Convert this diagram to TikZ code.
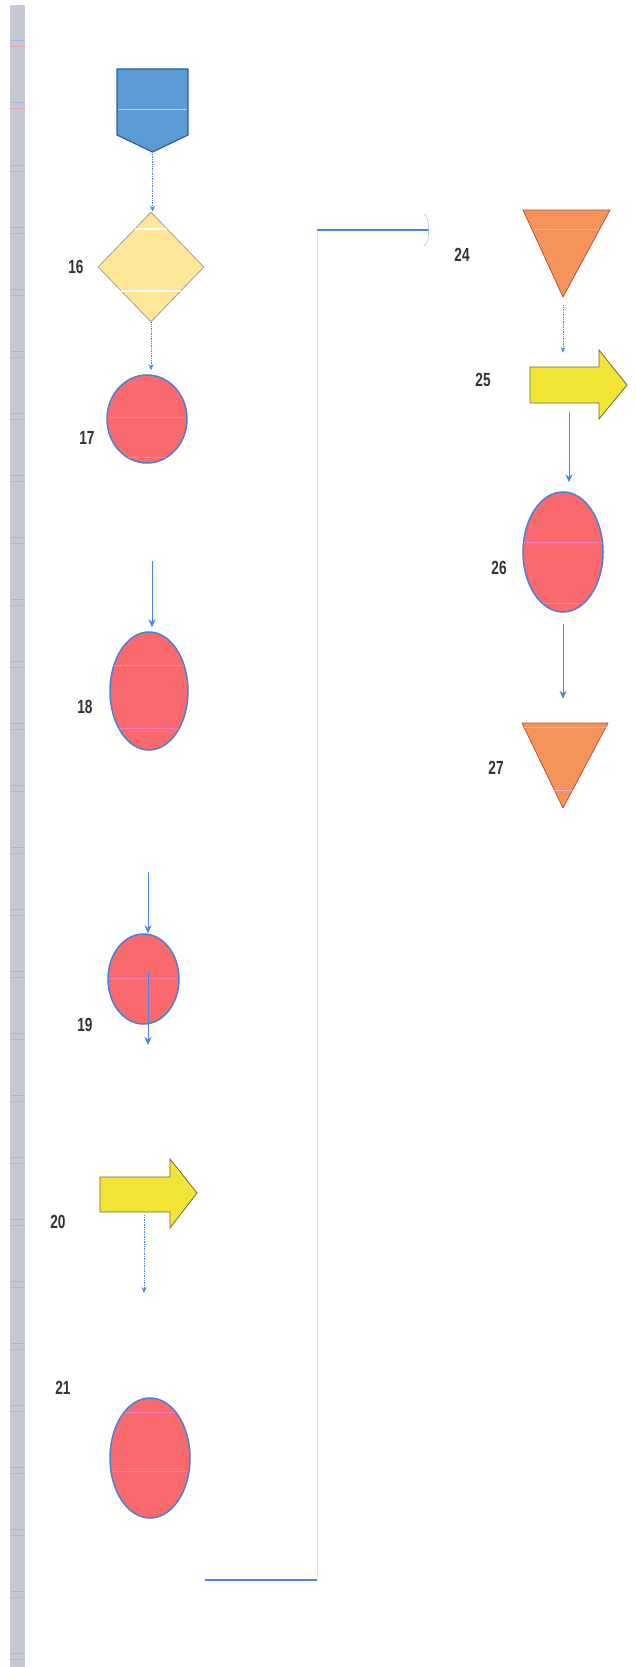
\documentclass[tikz,border=0pt]{standalone}
\usepackage{fontspec}
\usetikzlibrary{shapes.geometric,arrows.meta}
\newfontfamily\lblfont[FakeStretch=0.72]{Liberation Sans}
\definecolor{barc}{HTML}{C6C8D6}
\definecolor{tickc}{HTML}{F0A0B0}
\definecolor{tickb}{HTML}{A8B4E8}
\definecolor{pentfill}{HTML}{5B9BD5}
\definecolor{pentdraw}{HTML}{2F5E90}
\definecolor{diafill}{HTML}{FFE699}
\definecolor{diadraw}{HTML}{A8A08A}
\definecolor{ellfill}{HTML}{F86A6E}
\definecolor{elldraw}{HTML}{4A80D8}
\definecolor{trifill}{HTML}{F4935A}
\definecolor{tridraw}{HTML}{B5563A}
\definecolor{arrfill}{HTML}{F3E438}
\definecolor{arrdraw}{HTML}{6E6E30}
\definecolor{conc}{HTML}{4A86E8}
\definecolor{faintc}{HTML}{DCE4EE}
\definecolor{headc}{HTML}{B8C4D8}
\definecolor{pinkl}{HTML}{F07CC0}
\definecolor{lblc}{HTML}{333333}
\begin{document}
\begin{tikzpicture}[x=1pt,y=-1pt,
  lbl/.style={font=\lblfont\bfseries\fontsize{19}{19}\selectfont, text=lblc, inner sep=0pt},
  ell/.style={ellipse, fill=ellfill, draw=elldraw, line width=1.5pt, inner sep=0pt},
  dia/.style={diamond, fill=diafill, draw=diadraw, line width=0.8pt, inner sep=0pt, aspect=1},
  ghost/.style={rectangle, inner sep=0pt, draw=none},
  pentshape/.style={fill=pentfill, draw=pentdraw, line width=1.2pt, line join=round},
  trishape/.style={fill=trifill, draw=tridraw, line width=0.8pt, line join=round},
  arrshape/.style={fill=arrfill, draw=arrdraw, line width=0.8pt, line join=miter},
  conn/.style={draw=conc, line width=0.9pt, -{Stealth[length=8pt,width=7pt]}},
  dconn/.style={draw=conc, line width=0.7pt, densely dotted, -{Stealth[length=6pt,width=5pt]}},
  pinkline/.style={draw=pinkl, line width=0.9pt},
  whiteline/.style={draw=white, line width=1.2pt}]
\useasboundingbox (0,0) rectangle (636,1667);
\fill[white] (0,0) rectangle (636,1667);
% left bar
\fill[barc] (10,5) rectangle (25,1667);
\foreach \yy in {47,109,171,233,295,357,419,481,543,605,667,729,791,853,915,977,1039,1101,1163,1225,1287,1349,1411,1473,1535,1597,1659}{
  \draw[tickc, line width=1pt] (10,\yy) -- (25,\yy);
  \draw[tickb, line width=1pt] (11,\yy-6) -- (24,\yy-6);
}

% pentagon (off-page connector)
\draw[pentshape] (117,69) -- (188,69) -- (188,135) -- (152.5,152) -- (117,135) -- cycle;
\draw[pinkline, draw=pinkl!60] (118,109) -- (187,109);
\node[ghost, minimum width=71, minimum height=83] (pent) at (152.5,110.5) {};

% diamond 16
\node[dia, minimum width=106, minimum height=110] (d16) at (151,267) {};
\draw[whiteline] (135,229) -- (167,229);
\draw[whiteline] (121,291) -- (181,291);
\node[lbl] (l16) at (76,267) {16};

% ellipse 17
\node[ell, minimum width=80, minimum height=88] (e17) at (147,419) {};
\draw[pinkline] (108,417) -- (186,417);
\draw[pinkline] (128,457) -- (166,457);
\node[lbl] (l17) at (87,438) {17};

% ellipse 18
\node[ell, minimum width=78, minimum height=118] (e18) at (149,691) {};
\draw[pinkline] (114,665) -- (184,665);
\draw[pinkline] (119,728) -- (179,728);
\node[lbl] (l18) at (85,707) {18};

% ellipse 19
\node[ell, minimum width=71, minimum height=90] (e19) at (143.5,979) {};
\draw[pinkline] (109,978) -- (178,978);
\node[lbl] (l19) at (85,1025) {19};

% arrow 20
\draw[arrshape] (100,1177) -- (170,1177) -- (170,1159) -- (197,1193) -- (170,1228) -- (170,1212) -- (100,1212) -- cycle;
\node[ghost, minimum width=70, minimum height=35] (a20) at (135,1194.5) {};
\node[lbl] (l20) at (58,1222) {20};

% ellipse 21
\node[ell, minimum width=80, minimum height=120] (e21) at (150,1458) {};
\draw[pinkline] (125,1412) -- (175,1412);
\draw[pinkline] (112,1471) -- (188,1471);
\node[lbl] (l21) at (63,1388) {21};

% triangle 24
\draw[trishape] (523,210) -- (610,210) -- (563,297) -- cycle;
\draw[pinkline, draw=pinkl!70] (534,229) -- (599,229);
\node[ghost, minimum width=87, minimum height=87] (t24) at (563,253.5) {};
\node[lbl] (l24) at (462,255) {24};

% arrow 25
\draw[arrshape] (530,367) -- (599,367) -- (599,350) -- (627,385) -- (599,419) -- (599,403) -- (530,403) -- cycle;
\node[ghost, minimum width=69, minimum height=36] (a25) at (564.5,385) {};
\node[lbl] (l25) at (483,380) {25};

% ellipse 26
\node[ell, minimum width=80, minimum height=120] (e26) at (563,552) {};
\draw[pinkline] (524,542) -- (602,542);
\draw[pinkline] (543,603) -- (583,603);
\node[lbl] (l26) at (499,568) {26};

% triangle 27
\draw[trishape] (522,723) -- (608,723) -- (563,808) -- cycle;
\draw[pinkline, draw=pinkl!70] (524,727) -- (606,727);
\draw[pinkline, draw=pinkl!70] (554,790) -- (572,790);
\node[ghost, minimum width=86, minimum height=85] (t27) at (565,765.5) {};
\node[lbl] (l27) at (496,768) {27};

% free ends
\coordinate (c18a) at (152,561);
\coordinate (c19a) at (148,872);
\coordinate (c19b) at (148,1045);
\coordinate (c20b) at (144,1293);
\coordinate (cst) at (205,1580);
\coordinate (cc1) at (317,1580);
\coordinate (cc2) at (317,230);
\coordinate (cend) at (429,230);

% connectors
\draw[dconn] (pent.south) -- (pent.south |- d16.north);
\draw[dconn, shorten >=4pt] (d16.south) -- (e17.north -| d16.south);
\draw[conn, shorten >=4pt] (c18a) -- (c18a |- e18.north);
\draw[conn] (c19a) -- (c19a |- e19.north);
\draw[conn] (c19a |- e19.center) ++(0,-7) -- (c19b);
\draw[dconn] (a20.south -| c20b) ++(0,3) -- (c20b);
\draw[dconn, shorten <=8pt, shorten >=14pt] (t24.south) -- (t24.south |- a25.north);
\draw[conn, shorten <=9pt, shorten >=9pt] ([xshift=4.5pt]a25.south) -- ([xshift=4.5pt]a25.south |- e26.north);
\draw[conn, shorten <=11pt, shorten >=24pt] (e26.south) -- (e26.south |- t27.north);
% long connector
\draw[conc, line width=1.3pt] (cst) -- (cc1);
\draw[faintc, line width=1pt] (cc1) -- (cc2);
\draw[conc, line width=1.3pt, -{Arc Barb[length=5pt,width=32pt,line width=0.6pt,color=headc]}] (cc2) -- (cend);
\end{tikzpicture}
\end{document}
